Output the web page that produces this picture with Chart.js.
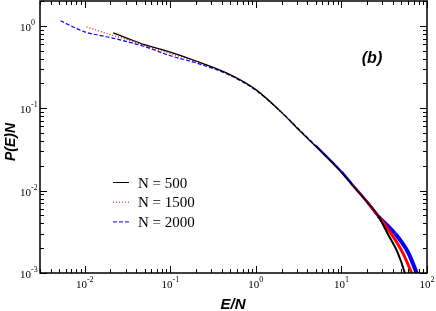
<!DOCTYPE html>
<html>
<head>
<meta charset="utf-8">
<script src="https://cdn.jsdelivr.net/npm/chart.js@4/dist/chart.umd.min.js"></script>
<style>
  body { margin: 0; background: #fff; }
  #wrap { width: 436px; height: 311px; }
</style>
</head>
<body>
<div id="wrap"><canvas id="myChart" width="436" height="311"></canvas></div>
<script>
// E/N values and P(E)N values
const e500 = [0.0215, 0.03, 0.05, 0.1, 0.2, 0.5, 1, 2, 3, 5, 10, 13, 20, 27, 35, 45.7, 55, 58]
const p500 = [0.82, 0.72, 0.59, 0.48, 0.374, 0.256, 0.168, 0.089, 0.058, 0.0344, 0.0166, 0.0121, 0.00724, 0.0049, 0.00295, 0.00174, 0.001, 0.0008]

const e1500 = [0.0105, 0.02, 0.03, 0.05, 0.1, 0.2, 0.5, 1, 2, 3, 5, 10, 13, 20, 27, 38.6, 52.3, 66, 70]
const p1500 = [0.97, 0.78, 0.69, 0.575, 0.46, 0.37, 0.252, 0.166, 0.088, 0.058, 0.0345, 0.0166, 0.0121, 0.00724, 0.0049, 0.00295, 0.00174, 0.001, 0.00085]

const e2000 = [0.0052, 0.01, 0.02, 0.05, 0.1, 0.2, 0.5, 1, 2, 3, 5, 10, 13, 20, 27, 42.3, 60.4, 75.7, 80]
const p2000 = [1.15, 0.845, 0.72, 0.56, 0.433, 0.355, 0.25, 0.165, 0.089, 0.059, 0.0352, 0.017, 0.0123, 0.0073, 0.0049, 0.00302, 0.00176, 0.001, 0.00087]

const seriesLabels = ["N = 500", "N = 1500", "N = 2000"]
const xDecades = [-2, -1, 0, 1, 2]
const yDecades = [-3, -2, -1, 0]

const ctx = document.querySelector("#myChart")

const toPoints = (xs, ys) => xs.map((x, i) => ({ x: x, y: ys[i] }))

// the noisy tail of each curve is drawn thicker, as in the original
const tailWidth = (steps) => (c) => {
    let w
    steps.forEach(([from, width]) => { if (c.p0.parsed.x >= from) w = width })
    return w
}
const solidAfter = (from) => (c) => (c.p0.parsed.x >= from ? [] : undefined)

const extras = {
    id: "extras",
    afterDraw(chart) {
        const c = chart.ctx
        const a = chart.chartArea
        const x = chart.scales.x
        const y = chart.scales.y
        c.save()

        // frame
        c.strokeStyle = "#000"
        c.lineWidth = 1.5
        c.strokeRect(a.left, a.top, a.right - a.left, a.bottom - a.top)

        // inward ticks on all four sides
        c.lineWidth = 1
        c.beginPath()
        for (let e = -3; e <= 2; e++) {
            for (let k = 1; k < 10; k++) {
                const v = k * Math.pow(10, e)
                const len = k === 1 ? 7 : 4
                if (v >= x.min && v <= x.max) {
                    const px = Math.round(x.getPixelForValue(v)) + 0.5
                    c.moveTo(px, a.bottom); c.lineTo(px, a.bottom - len)
                    c.moveTo(px, a.top); c.lineTo(px, a.top + len)
                }
                if (v >= y.min && v <= y.max) {
                    const py = Math.round(y.getPixelForValue(v)) + 0.5
                    c.moveTo(a.left, py); c.lineTo(a.left + len, py)
                    c.moveTo(a.right, py); c.lineTo(a.right - len, py)
                }
            }
        }
        c.stroke()

        // tick labels 10^n
        c.fillStyle = "#000"
        c.textBaseline = "alphabetic"
        c.textAlign = "left"
        const big = "11px 'Liberation Serif'"
        const small = "8px 'Liberation Serif'"
        const measure = (e) => {
            c.font = big
            const w1 = c.measureText("10").width
            c.font = small
            const w2 = c.measureText(String(e)).width
            return [w1, w2]
        }
        const drawPow = (e, left, base) => {
            const [w1] = measure(e)
            c.font = big
            c.fillText("10", left, base)
            c.font = small
            c.fillText(String(e), left + w1, base - 6)
        }
        xDecades.forEach(e => {
            const px = x.getPixelForValue(Math.pow(10, e))
            const [w1, w2] = measure(e)
            drawPow(e, px - (w1 + w2) / 2, 288)
        })
        yDecades.forEach(e => {
            const py = y.getPixelForValue(Math.pow(10, e))
            drawPow(e, 20, py + 5)
        })

        // axis titles
        c.font = "italic bold 15px 'Liberation Sans'"
        c.textAlign = "center"
        c.fillText("E/N", 233, 309)
        c.save()
        c.translate(15, 142)
        c.rotate(-Math.PI / 2)
        c.font = "italic bold 14px 'Liberation Sans'"
        c.fillText("P(E)N", 0, 0)
        c.restore()

        c.font = "italic bold 16px 'Liberation Sans'"
        c.fillText("(b)", 372, 63)

        // legend inside the plot
        c.textAlign = "left"
        c.font = "15px 'Liberation Serif'"
        chart.data.datasets.forEach((ds, i) => {
            const ly = 182.5 + i * 19.7
            c.strokeStyle = ds.borderColor
            c.lineWidth = 1
            c.setLineDash(ds.borderDash || [])
            c.beginPath()
            c.moveTo(113, ly)
            c.lineTo(129, ly)
            c.stroke()
            c.setLineDash([])
            c.fillText(ds.label, 138, ly + 5)
        })
        c.restore()
    }
}

new Chart(ctx, {
    type: "line",
    data: {
        datasets: [
            {
                label: seriesLabels[0],
                data: toPoints(e500, p500),
                borderColor: "#000000",
                borderWidth: 1.3,
                segment: { borderWidth: tailWidth([[27, 2]]) },
            },
            {
                label: seriesLabels[1],
                data: toPoints(e1500, p1500),
                borderColor: "#ff0000",
                borderWidth: 1.2,
                borderDash: [1, 2],
                segment: { borderWidth: tailWidth([[13, 2], [20, 2.5], [27, 3]]), borderDash: solidAfter(13) },
            },
            {
                label: seriesLabels[2],
                data: toPoints(e2000, p2000),
                borderColor: "#0000ff",
                borderWidth: 1.2,
                borderDash: [4, 2],
                segment: { borderWidth: tailWidth([[5, 2], [10, 2.5], [20, 3], [27, 3.5], [42, 4]]), borderDash: solidAfter(5) },
            },
        ],
    },
    options: {
        responsive: false,
        animation: false,
        devicePixelRatio: 1,
        layout: { padding: { left: 40, right: 9, top: 1, bottom: 38 } },
        elements: { point: { radius: 0 }, line: { cubicInterpolationMode: "monotone" } },
        plugins: { legend: { display: false }, tooltip: { enabled: false } },
        scales: {
            x: { type: "logarithmic", min: 0.003, max: 100, display: false },
            y: { type: "logarithmic", min: 0.001, max: 2, display: false },
        },
    },
    plugins: [extras],
});
</script>
</body>
</html>
